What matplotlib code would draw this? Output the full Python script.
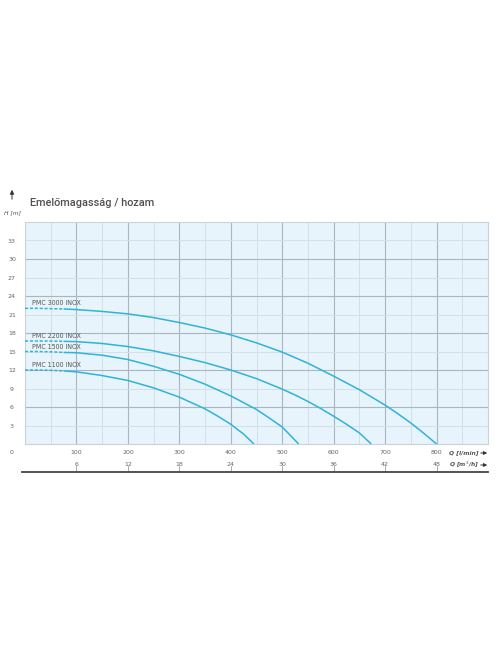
import numpy as np
import matplotlib
matplotlib.use('Agg')
import matplotlib.pyplot as plt
import matplotlib.transforms as mtransforms

# --- colours ---
C_BG = '#e7f4fb'
C_CURVE = '#2fb3d8'
C_MAJ = '#a7b6c1'
C_MIN = '#d3e0e8'
C_TXT = '#666666'

# --- data: Q [l/min] -> H [m] ---
PUMPS = ['PMC 3000 INOX', 'PMC 2200 INOX', 'PMC 1500 INOX', 'PMC 1100 INOX']
Q_3000 = [0, 25, 50, 75, 100, 125, 150, 175, 200, 225, 250, 275, 300, 325, 350, 375, 400,
          425, 450, 475, 500, 525, 550, 575, 600, 625, 650, 675, 700, 725, 750, 775, 800]
H_3000 = [22.0, 22.0, 21.95, 21.9, 21.8, 21.65, 21.5, 21.3, 21.1, 20.8, 20.5, 20.1, 19.7,
          19.25, 18.8, 18.25, 17.7, 17.05, 16.4, 15.65, 14.9, 14.0, 13.1, 12.05, 11.0,
          9.9, 8.8, 7.55, 6.3, 4.9, 3.4, 1.75, 0.0]
Q_2200 = [0, 25, 50, 75, 100, 125, 150, 175, 200, 225, 250, 275, 300, 325, 350, 375, 400,
          425, 450, 475, 500, 525, 550, 575, 600, 625, 650, 673]
H_2200 = [16.7, 16.7, 16.7, 16.65, 16.6, 16.45, 16.3, 16.05, 15.8, 15.45, 15.1, 14.65, 14.2,
          13.7, 13.2, 12.6, 12.0, 11.3, 10.6, 9.75, 8.9, 7.95, 6.9, 5.75, 4.5, 3.2, 1.8, 0.0]
Q_1500 = [0, 25, 50, 75, 100, 125, 150, 175, 200, 225, 250, 275, 300, 325, 350, 375, 400,
          425, 450, 475, 500, 532]
H_1500 = [15.0, 15.0, 14.95, 14.85, 14.8, 14.6, 14.4, 14.05, 13.7, 13.15, 12.6, 11.95, 11.3,
          10.5, 9.7, 8.75, 7.8, 6.7, 5.6, 4.2, 2.75, 0.0]
Q_1100 = [0, 25, 50, 75, 100, 125, 150, 175, 200, 225, 250, 275, 300, 325, 350, 375, 400,
          425, 445]
H_1100 = [12.0, 12.0, 11.95, 11.85, 11.7, 11.4, 11.1, 10.7, 10.3, 9.7, 9.1, 8.35, 7.6, 6.65,
          5.7, 4.5, 3.2, 1.6, 0.0]
LABEL_H = [22.9, 17.5, 15.7, 12.8]

Y_TICKS = [3, 6, 9, 12, 15, 18, 21, 24, 27, 30, 33]
X_TICKS = [100, 200, 300, 400, 500, 600, 700, 800]
M3H_TICKS = [6, 12, 18, 24, 30, 36, 42, 48]

curves = [(Q_3000, H_3000), (Q_2200, H_2200), (Q_1500, H_1500), (Q_1100, H_1100)]

W, H = 496, 664
fig = plt.figure(figsize=(W / 100, H / 100), dpi=100)
ax = fig.add_axes([25 / W, 1 - 444 / H, (488 - 25) / W, (444 - 222) / H])
ax.set_facecolor(C_BG)
ax.set_xlim(0, 900)
ax.set_ylim(0, 36)

# grid
for x in np.arange(50, 900, 50):
    ax.axvline(x, color=C_MAJ if x % 100 == 0 else C_MIN, lw=0.8 if x % 100 == 0 else 0.7, zorder=1)
for y in np.arange(3, 36, 3):
    ax.axhline(y, color=C_MAJ if y % 6 == 0 else C_MIN, lw=0.8 if y % 6 == 0 else 0.7, zorder=1)

for s in ax.spines.values():
    s.set_color('#c9d3d9'); s.set_linewidth(0.8)
ax.set_xticks([]); ax.set_yticks([])

# curves: dashed start, solid rest
for name, (q, h), ly in zip(PUMPS, curves, LABEL_H):
    q = np.array(q); h = np.array(h)
    k = np.searchsorted(q, 75) + 1
    ax.plot(q[:k], h[:k], color=C_CURVE, lw=1.1, ls=(0, (2, 1.2)), zorder=3)
    ax.plot(q[k - 1:], h[k - 1:], color=C_CURVE, lw=1.1, zorder=3, solid_capstyle='butt')
    ax.text(13, ly, name, fontsize=5.0, color='#555555', va='center', ha='left',
            family='DejaVu Sans', stretch='condensed', zorder=4)

# y tick labels (outside, left)
for y in Y_TICKS:
    fig.text(12 / W, 1 - (445 - y * 6.17) / H, str(y), fontsize=4.5, color=C_TXT,
             ha='center', va='center')
fig.text(12 / W, 1 - 453 / H, '0', fontsize=4.5, color=C_TXT, ha='center', va='center')

# x tick labels below axes
trx = mtransforms.blended_transform_factory(ax.transData, fig.transFigure)
for x in X_TICKS:
    ax.text(x, 1 - 453 / H, str(x), transform=trx, fontsize=4.5, color=C_TXT,
            ha='center', va='center', clip_on=False)
for m in M3H_TICKS:
    xq = m * 100 / 6
    ax.text(xq, 1 - 464 / H, str(m), transform=trx, fontsize=4.5, color=C_TXT,
            ha='center', va='center', clip_on=False)
    ax.plot([xq, xq], [1 - 466 / H, 1 - 471 / H], transform=trx, color='#888888',
            lw=0.5, clip_on=False)
fig.add_artist(plt.Line2D([22 / W, 488 / W], [1 - 471.5 / H, 1 - 471.5 / H],
                          color='#444444', lw=1.3))

# unit labels + arrows
fig.text(449 / W, 1 - 453 / H, 'Q [l/min]', fontsize=4.3, color='#555555', style='italic',
         weight='bold', ha='left', va='center')
fig.text(449 / W, 1 - 465 / H, 'Q [m$^3$/h]', fontsize=4.3, color='#555555', style='italic',
         weight='bold', ha='left', va='center')
for yy in (453, 465):
    fig.add_artist(matplotlib.patches.FancyArrowPatch((478 / W, 1 - yy / H), (490 / W, 1 - yy / H),
                   transform=fig.transFigure, arrowstyle='-|>', mutation_scale=5,
                   color='#333333', lw=0.7))

# y axis arrow and unit
fig.add_artist(matplotlib.patches.FancyArrowPatch((12 / W, 1 - 202 / H), (12 / W, 1 - 187 / H),
               transform=fig.transFigure, arrowstyle='-|>', mutation_scale=6,
               color='#333333', lw=0.7))
fig.text(12 / W, 1 - 213 / H, 'H [m]', fontsize=4.3, color='#555555', style='italic',
         ha='center', va='center')

# title
fig.text(30 / W, 1 - 203 / H, 'Emelőmagasság / hozam', fontsize=7.8, color='#505050',
         family=['Roboto', 'DejaVu Sans'], weight='medium', ha='left', va='center')

fig.savefig('out.png', dpi=100)
